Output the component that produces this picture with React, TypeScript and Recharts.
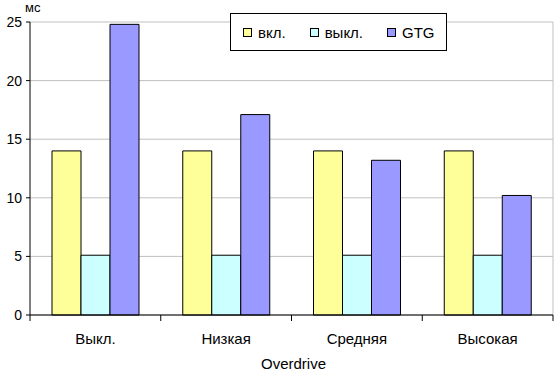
import React from 'react';
import { BarChart, Bar, XAxis, YAxis, CartesianGrid, Legend, Label } from 'recharts';

const categories = ['Выкл.', 'Низкая', 'Средняя', 'Высокая'];
const seriesOn = [14.0, 14.0, 14.0, 14.0];
const seriesOff = [5.1, 5.1, 5.1, 5.1];
const seriesGTG = [24.8, 17.1, 13.2, 10.2];
const yTicks = [0, 5, 10, 15, 20, 25];
const seriesNames = ['вкл.', 'выкл.', 'GTG'];
const colors = ['#FFFF99', '#CCFFFF', '#9999FF'];

const data = categories.map((c, i) => ({
  name: c,
  on: seriesOn[i],
  off: seriesOff[i],
  gtg: seriesGTG[i],
}));

const W = 554;
const H = 371;
const M = { top: 22, right: 1, bottom: 0, left: 0 };
const Y_W = 30;
const X_H = 56;
const PLOT_W = W - M.left - M.right - Y_W;
const FONT = '"Liberation Sans", Arial, sans-serif';

const XTick = (props: any) => {
  const { x, y, payload, index } = props;
  const band = PLOT_W / categories.length;
  const left = x - band / 2;
  const right = x + band / 2;
  return (
    <g>
      <line x1={left} y1={y - 8} x2={left} y2={y - 2} stroke="#000" />
      {index === categories.length - 1 && (
        <line x1={right} y1={y - 8} x2={right} y2={y - 2} stroke="#000" />
      )}
      <text x={x} y={y + 21} textAnchor="middle" fontSize={15} fontFamily={FONT} fill="#000">
        {payload.value}
      </text>
    </g>
  );
};

const LegendContent = () => (
  <div
    style={{
      position: 'absolute',
      left: 230,
      top: 13,
      width: 203,
      height: 36,
      border: '1px solid #000',
      background: '#fff',
      display: 'flex',
      alignItems: 'center',
      paddingLeft: 12,
      boxSizing: 'content-box',
      fontFamily: FONT,
      fontSize: 15,
      color: '#000',
    }}
  >
    {seriesNames.map((n, i) => (
      <div key={n} style={{ display: 'flex', alignItems: 'center', marginRight: i < 2 ? 24 : 0 }}>
        <div style={{ width: 7, height: 7, background: colors[i], border: '1px solid #000', marginRight: 6 }} />
        <span>{n}</span>
      </div>
    ))}
  </div>
);

export default function App() {
  return (
    <div style={{ position: 'absolute', left: 0, top: 0, width: W, height: H, background: '#fff' }}>
      <BarChart width={W} height={H} data={data} margin={M} barGap={0} barCategoryGap={22}>
        <CartesianGrid
          stroke="#c0c0c0"
          horizontal={true}
          vertical={true}
          verticalCoordinatesGenerator={(p: any) => [p.offset.left + p.offset.width]}
        />
        <XAxis
          dataKey="name"
          height={X_H}
          axisLine={{ stroke: '#000' }}
          tickLine={false}
          tick={<XTick />}
          interval={0}
        >
          <Label
            content={(p: any) => (
              <text
                x={p.viewBox.x + p.viewBox.width / 2 + 2}
                y={p.viewBox.y + 54}
                textAnchor="middle"
                fontSize={15}
                fontFamily={FONT}
                fill="#000"
              >
                Overdrive
              </text>
            )}
          />
        </XAxis>
        <YAxis
          width={Y_W}
          domain={[0, 25]}
          ticks={yTicks}
          interval={0}
          axisLine={{ stroke: '#000' }}
          tickLine={{ stroke: '#000' }}
          tickSize={4}
          tickMargin={4}
          tick={{ fontSize: 14, fontFamily: FONT, fill: '#000' }}
        >
          <Label
            content={(p: any) => (
              <text x={p.viewBox.x + p.viewBox.width - 5} y={p.viewBox.y - 10} fontSize={13} fontFamily={FONT} fill="#000">
                мс
              </text>
            )}
          />
        </YAxis>
        <Legend content={<LegendContent />} wrapperStyle={{ position: 'absolute', left: 0, top: 0, width: 0, height: 0 }} />
        <Bar dataKey="on" name={seriesNames[0]} fill={colors[0]} stroke="#000" strokeWidth={1} isAnimationActive={false} />
        <Bar dataKey="off" name={seriesNames[1]} fill={colors[1]} stroke="#000" strokeWidth={1} isAnimationActive={false} />
        <Bar dataKey="gtg" name={seriesNames[2]} fill={colors[2]} stroke="#000" strokeWidth={1} isAnimationActive={false} />
      </BarChart>
    </div>
  );
}
